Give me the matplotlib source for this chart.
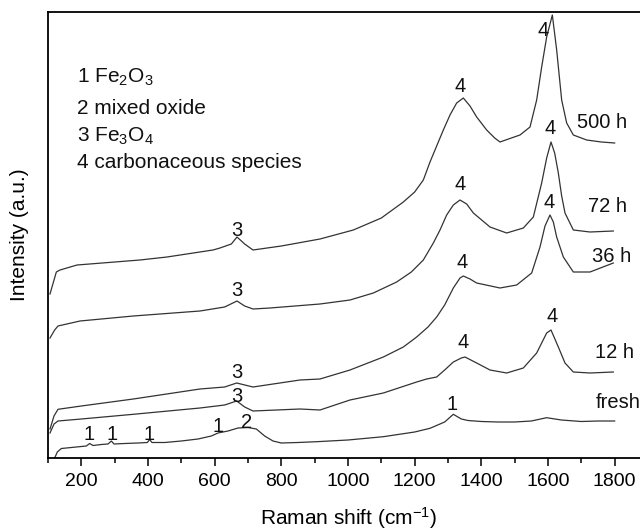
import matplotlib
matplotlib.use("Agg")
import matplotlib.pyplot as plt
from matplotlib.ticker import MultipleLocator

plt.rcParams['font.family'] = ['Liberation Sans', 'DejaVu Sans']
plt.rcParams['mathtext.default'] = 'regular'

# Raman shift (cm-1) / intensity (a.u.)
fresh_x = [120, 128, 140, 170, 200, 215, 225, 235, 260, 280, 290, 298, 330, 370, 398, 405, 412,
           450, 500, 550, 590, 610, 640, 670, 700, 725, 750, 775, 800, 850, 906, 1000, 1106,
           1200, 1246, 1290, 1316, 1340, 1360, 1400, 1450, 1500, 1550, 1596, 1640, 1700, 1750, 1800]
fresh_y = [0, 6, 9.5, 10.5, 11.5, 12, 14.5, 12.5, 13.5, 14, 17, 14, 14.5, 15, 15.5, 18.5, 15.5,
           15.5, 17, 19, 22, 25, 27, 30, 30.5, 29, 22, 17, 15, 15.5, 16.3, 18, 21.3,
           26, 29.7, 36, 43.7, 39, 37.5, 36.5, 36, 36, 37, 40.3, 38, 36.5, 37, 37]

h12_x = [106, 118, 130, 200, 356, 556, 630, 666, 690, 715, 856, 916, 1006, 1106, 1206, 1236,
         1266, 1290, 1316, 1340, 1351, 1386, 1426, 1476, 1526, 1566, 1596, 1609, 1631, 1651,
         1676, 1726, 1796]
h12_y = [25, 34, 37, 39, 43.7, 50, 53, 57, 51, 47, 49, 48, 58, 65, 76, 79,
         81, 88, 96, 100, 101, 95, 88, 85, 90, 105, 125, 128, 111, 95,
         86, 85, 86]

h36_x = [106, 118, 130, 200, 356, 556, 630, 666, 715, 856, 916, 1006, 1106, 1166, 1206, 1240,
         1266, 1290, 1316, 1336, 1346, 1366, 1386, 1456, 1506, 1551, 1576, 1591, 1606, 1616,
         1626, 1646, 1676, 1726, 1796]
h36_y = [29, 42, 48.7, 52, 59, 69, 71, 75, 71, 78, 79, 88, 101, 111, 121, 131,
         141, 153, 170, 180, 182, 179, 175, 170, 173, 185, 211, 232, 243, 236,
         221, 201, 186, 186, 195]

h72_x = [106, 120, 130, 196, 356, 556, 630, 667, 690, 715, 766, 916, 1006, 1076, 1146, 1190,
         1226, 1256, 1276, 1296, 1316, 1336, 1356, 1376, 1426, 1476, 1526, 1556, 1581, 1596,
         1609, 1620, 1631, 1641, 1651, 1676, 1726, 1796]
h72_y = [120, 128, 132, 137, 142, 147, 151, 157, 152, 149, 150, 154, 158, 165, 176, 186,
         198, 215, 228, 243, 253, 258, 254, 245, 231, 225, 230, 241, 275, 300,
         316, 305, 285, 262, 245, 228, 226, 227]

h500_x = [106, 125, 136, 187, 376, 457, 595, 616, 650, 667, 690, 715, 800, 916, 1016, 1100,
          1166, 1200, 1226, 1246, 1266, 1286, 1306, 1326, 1346, 1366, 1386, 1416, 1440, 1456,
          1490, 1516, 1546, 1566, 1581, 1596, 1613, 1626, 1641, 1656, 1676, 1716, 1760, 1800]
h500_y = [164, 186, 188, 193, 198, 201, 208, 210, 214, 221, 214, 208, 212, 219, 228, 240,
          256, 266, 278, 296, 312, 328, 343, 355, 360, 352, 341, 328, 320, 316,
          320, 323, 331, 358, 391, 421, 443, 408, 358, 335, 323, 318, 316, 315]

spectra = [(fresh_x, fresh_y), (h12_x, h12_y), (h36_x, h36_y), (h72_x, h72_y), (h500_x, h500_y)]

sample_names = ["fresh", "12 h", "36 h", "72 h", "500 h"]
sample_pos = [(1744, 55), (1741, 106), (1732, 201), (1720, 251), (1687, 335)]

peak_text = ["4", "4", "3", "4", "4", "3", "4", "4", "3", "4", "4", "3",
             "1", "1", "1", "1", "2", "1"]
peak_pos = [(1336, 371), (1584, 428), (667, 228),
            (1336, 273), (1606, 330), (667, 167),
            (1341, 196), (1603, 255), (667, 86),
            (1344, 116), (1612, 141), (667, 62),
            (224, 23), (291, 23), (404, 23), (611, 31), (696, 36), (1311, 53)]

legend_lines = [r"1 Fe$_2$O$_3$", "2 mixed oxide", r"3 Fe$_3$O$_4$", "4 carbonaceous species"]
legend_y = [381, 350, 322, 296]

fig = plt.figure(figsize=(6.4, 5.32), dpi=100)
ax = fig.add_axes([48/640, 74/532, 600/640, 446/532])

for xs, ys in spectra:
    ax.plot(xs, ys, color="#333333", lw=0.9)

for name, (px, py) in zip(sample_names, sample_pos):
    ax.text(px, py, name, fontsize=14.5, ha="left", va="center", color="#111111")

for t, (px, py) in zip(peak_text, peak_pos):
    ax.text(px, py, t, fontsize=14.5, ha="center", va="center", color="#111111")

for t, yy in zip(legend_lines, legend_y):
    ax.text(187, yy, t, fontsize=15, ha="left", va="center", color="#111111")

ax.set_xlim(100, 1900)
ax.set_ylim(0, 446)
ax.set_yticks([])
ax.xaxis.set_major_locator(MultipleLocator(200))
ax.xaxis.set_minor_locator(MultipleLocator(100))
ax.tick_params(axis="x", which="major", direction="out", length=5.5, width=1.1,
               labelsize=14, pad=5, top=False)
ax.tick_params(axis="x", which="minor", direction="out", length=3.5, width=1.1, top=False)
for sp in ax.spines.values():
    sp.set_linewidth(1.3)

ax.set_xlabel("Raman shift (cm$^{-1}$)", fontsize=15, labelpad=11)
ax.set_ylabel("Intensity (a.u.)", fontsize=15, labelpad=14)

fig.savefig("out.png", dpi=100)
